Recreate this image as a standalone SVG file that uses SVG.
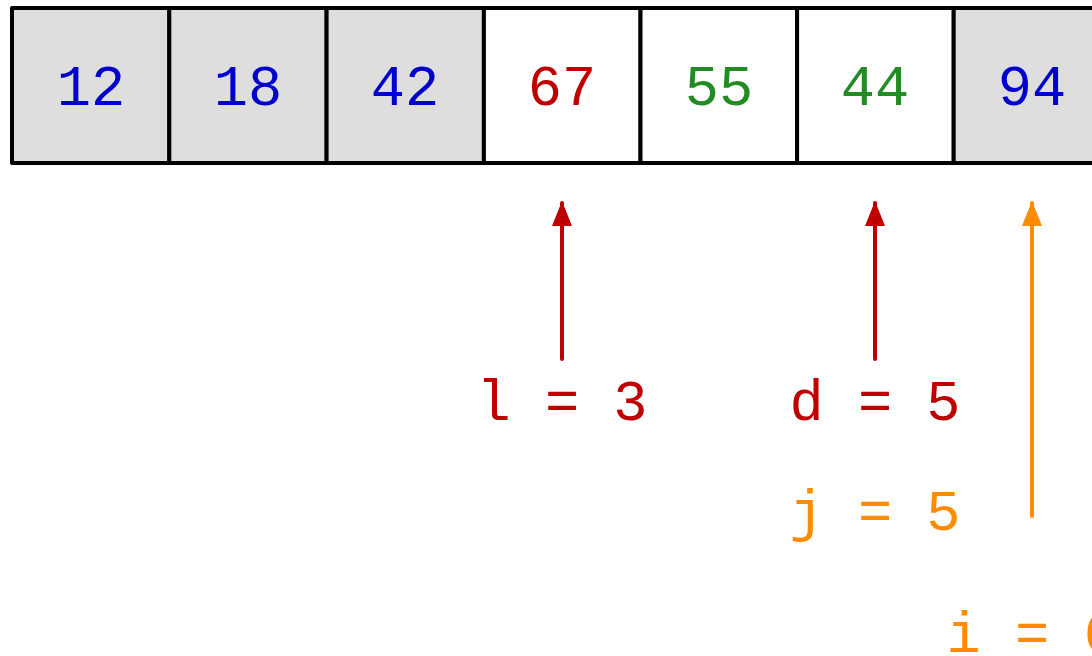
<svg xmlns="http://www.w3.org/2000/svg" width="1092" height="656" viewBox="0 0 1092 656">
<style>
.cell{stroke:#000;stroke-width:4;stroke-linejoin:round}
.g{fill:#dedede}
.w{fill:#fff}
text{font-family:"Liberation Mono","DejaVu Sans Mono",monospace;font-size:57px;text-anchor:middle}
.blue{fill:#0000cc}
.red{fill:#c00000}
.green{fill:#228b22}
.orange{fill:#ff8c00}
.ar{stroke-width:4;stroke-linecap:round;fill:none}
</style>
<defs>
<marker id="hr" markerUnits="userSpaceOnUse" markerWidth="25" markerHeight="20" refX="23" refY="10" orient="auto" viewBox="0 0 25 20">
<path d="M0 0 L25 10 L0 20 Z" fill="#c00000"/>
</marker>
<marker id="ho" markerUnits="userSpaceOnUse" markerWidth="25" markerHeight="20" refX="23" refY="10" orient="auto" viewBox="0 0 25 20">
<path d="M0 0 L25 10 L0 20 Z" fill="#ff8c00"/>
</marker>
</defs>
<rect width="1092" height="656" fill="#fff"/>
<g id="cell0"><rect class="cell g" x="12" y="8" width="157.3" height="155"/><text class="blue" x="91" y="105">12</text></g>
<g id="cell1"><rect class="cell g" x="169.3" y="8" width="157.3" height="155"/><text class="blue" x="248" y="105">18</text></g>
<g id="cell2"><rect class="cell g" x="326.6" y="8" width="157.3" height="155"/><text class="blue" x="405" y="105">42</text></g>
<g id="cell3"><rect class="cell w" x="483.9" y="8" width="156.6" height="155"/><text class="red" x="562" y="105">67</text></g>
<g id="cell4"><rect class="cell w" x="640.5" y="8" width="156.6" height="155"/><text class="green" x="719" y="105">55</text></g>
<g id="cell5"><rect class="cell w" x="797.1" y="8" width="156.6" height="155"/><text class="green" x="875" y="105">44</text></g>
<g id="cell6"><rect class="cell g" x="953.7" y="8" width="157" height="155"/><text class="blue" x="1032" y="105">94</text></g>
<g id="connectors">
<line class="ar" x1="562" y1="359" x2="562" y2="203" stroke="#c00000" marker-end="url(#hr)"/>
<line class="ar" x1="875" y1="359" x2="875" y2="203" stroke="#c00000" marker-end="url(#hr)"/>
<line class="ar" x1="1032" y1="516" x2="1032" y2="203" stroke="#ff8c00" marker-end="url(#ho)"/>
</g>
<g id="label-l"><text class="red" x="562" y="420">l = 3</text></g>
<g id="label-d"><text class="red" x="875" y="420">d = 5</text></g>
<g id="label-j"><text class="orange" x="875" y="530">j = 5</text></g>
<g id="label-i"><text class="orange" x="1032" y="652">i = 6</text></g>
</svg>
